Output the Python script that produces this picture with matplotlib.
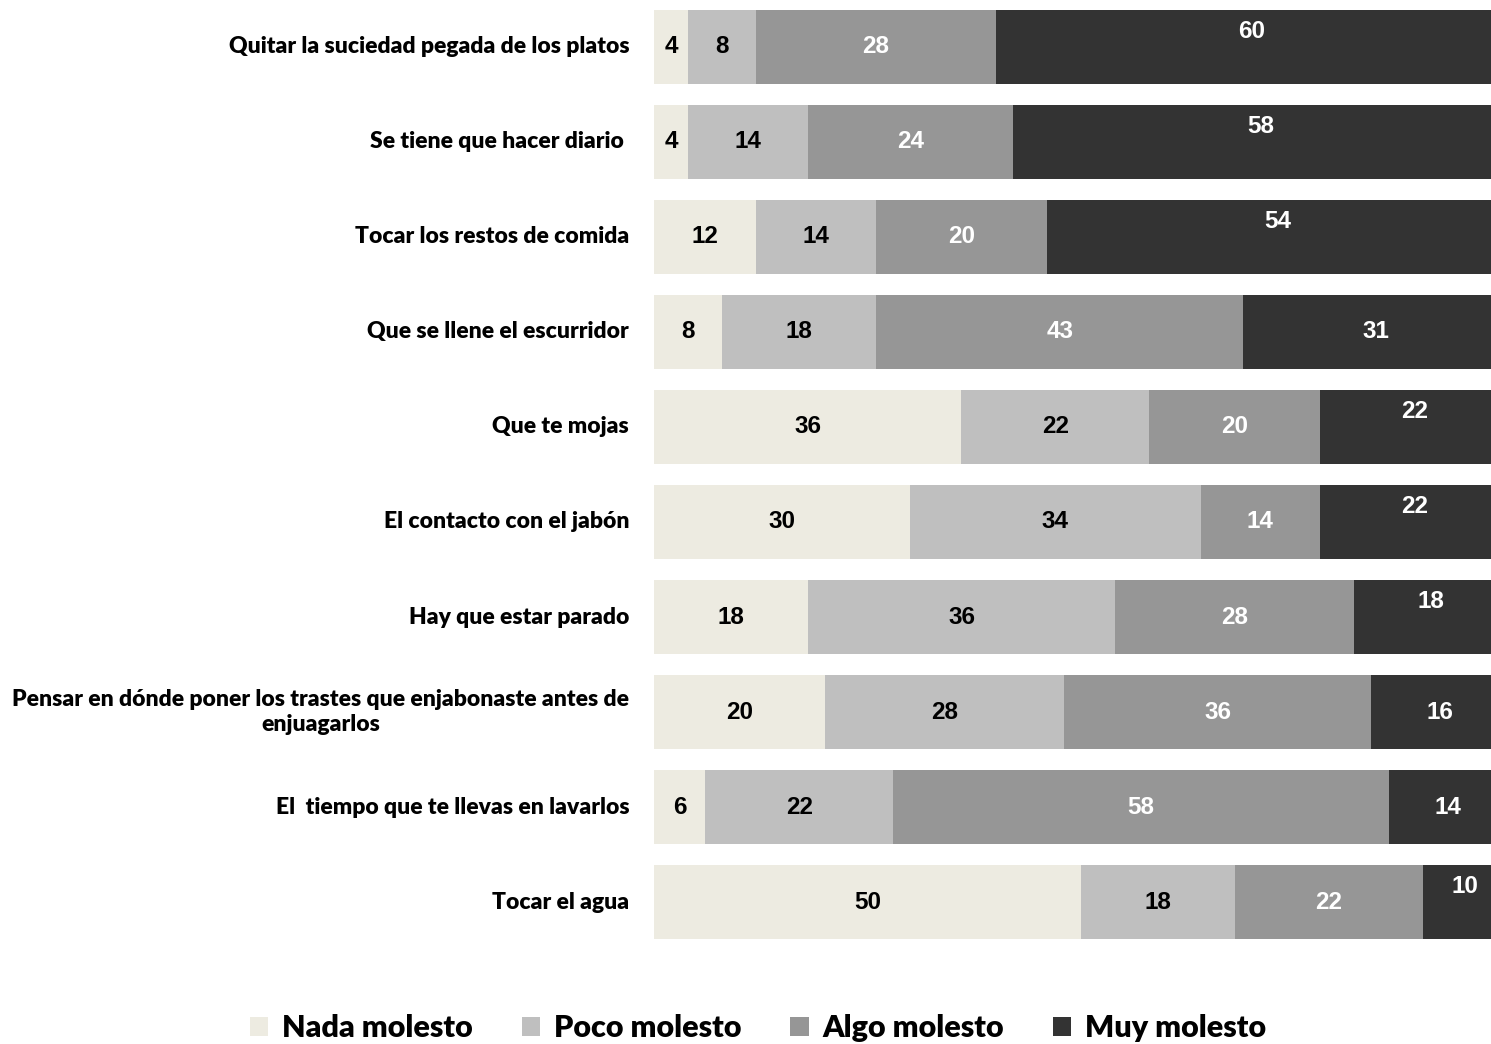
import numpy as np
import matplotlib.pyplot as plt
from matplotlib.patches import Patch

# Survey answers (percent of respondents per item)
categories = [
    "Quitar la suciedad pegada de los platos",
    "Se tiene que hacer diario ",
    "Tocar los restos de comida",
    "Que se llene el escurridor",
    "Que te mojas",
    "El contacto con el jabón",
    "Hay que estar parado",
    "Pensar en dónde poner los trastes que enjabonaste antes de\nenjuagarlos",
    "El  tiempo que te llevas en lavarlos",
    "Tocar el agua",
]
nada = [4, 4, 12, 8, 36, 30, 18, 20, 6, 50]
poco = [8, 14, 14, 18, 22, 34, 36, 28, 22, 18]
algo = [28, 24, 20, 43, 20, 14, 28, 36, 58, 22]
muy = [60, 58, 54, 31, 22, 22, 18, 16, 14, 10]
series_names = ["Nada molesto", "Poco molesto", "Algo molesto", "Muy molesto"]

colors = ["#EDEBE1", "#BFBFBF", "#969696", "#333333"]
text_colors = ["black", "black", "white", "white"]
# rows whose last label sits a bit higher in its segment
raised_last = {0, 1, 2, 4, 5, 6, 9}

fig = plt.figure(figsize=(14.91, 10.44), dpi=100)
ax = fig.add_axes([654 / 1491, 0.0905, 1 - 654 / 1491, 0.9100])

y = np.arange(len(categories))
left = np.zeros(len(categories))
for k, vals in enumerate([nada, poco, algo, muy]):
    vals = np.array(vals, dtype=float)
    ax.barh(y, vals, left=left, height=0.77, color=colors[k], edgecolor="none")
    for i, v in enumerate(vals):
        dy = 11 if (k == 3 and i in raised_last) else 0
        ax.annotate(f"{int(v)}", (left[i] + v / 2, y[i]), xytext=(0, dy),
                    textcoords="offset points", ha="center", va="center",
                    color=text_colors[k], fontsize=17.5, fontweight="bold",
                    family="Liberation Sans")
    left += vals

ax.set_xlim(0, 98)
ax.set_ylim(len(categories) - 0.5, -0.5)
ax.axis("off")

for i, cat in enumerate(categories):
    ax.text(-2.9, y[i], cat, ha="right", va="center", multialignment="center",
            fontsize=16.5, fontweight="heavy", family="Lato", linespacing=1.2)

handles = [Patch(facecolor=c, edgecolor="none") for c in colors]
fig.legend(handles, series_names, loc="center", ncol=4,
           bbox_to_anchor=(758 / 1491, 1 - 1028 / 1044), frameon=False,
           prop={"family": "Lato", "weight": "heavy", "size": 22},
           handlelength=0.6, handleheight=0.6, handletextpad=0.45,
           columnspacing=1.6)

fig.savefig("out.png", dpi=100)
